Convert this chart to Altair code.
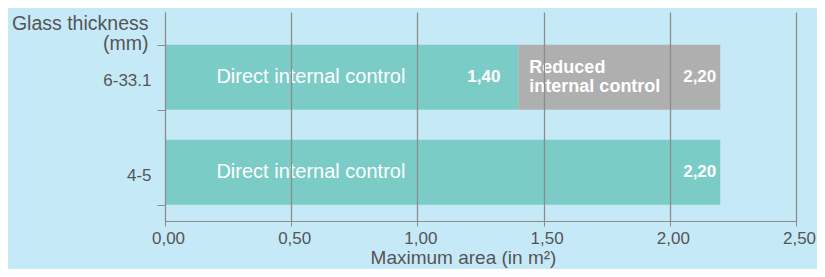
import altair as alt
import pandas as pd

categories = ["6-33.1", "6-33.1", "4-5"]
seg_start = [0.0, 1.40, 0.0]
seg_end = [1.40, 2.20, 2.20]
seg_type = ["Direct internal control", "Reduced internal control", "Direct internal control"]
value_labels = ["1,40", "2,20", "2,20"]
y_order = ["6-33.1", "4-5"]
x_ticks = [0, 0.5, 1.0, 1.5, 2.0, 2.5]

df = pd.DataFrame({
    "cat": categories,
    "start": seg_start,
    "end": seg_end,
    "type": seg_type,
    "vlabel": value_labels,
})

FONT = "Liberation Sans"
BG = "#c6e9f8"
TEAL = "#7bccc7"
GREY = "#b0afb0"
AX = "#8c8c8c"
TXT = "#555555"

yscale = alt.Scale(domain=y_order, paddingInner=0.316, paddingOuter=0.258, align=0.67)
xscale = alt.Scale(domain=[0, 2.5], nice=False)

x_enc = alt.X(
    "start:Q", scale=xscale,
    axis=alt.Axis(
        values=x_ticks, labelExpr="replace(format(datum.value, '.2f'), '.', ',')",
        title="Maximum area (in m²)", grid=True, gridColor=AX, gridWidth=1.3,
        domainColor=AX, tickColor=AX, tickSize=5, labelColor=TXT, labelFontSize=17,
        labelFont=FONT, titleFont=FONT, titleFontSize=19, titleColor=TXT,
        titleFontWeight="normal", labelPadding=4, titlePadding=2, zindex=1,
        labelFlush=False, labelOffset=3, titleX=298, titleAlign="center",
    ),
)
y_enc = alt.Y(
    "cat:N", scale=yscale, sort=y_order,
    axis=alt.Axis(
        title=["Glass thickness", "(mm)"], titleAngle=0, titleAlign="right",
        titleBaseline="top", titleX=-17, titleY=2, titleLineHeight=20,
        titleFont=FONT, titleFontSize=19.5, titleColor=TXT, titleFontWeight="normal",
        labelFont=FONT, labelFontSize=17, labelColor=TXT, labelPadding=6, labelOffset=3,
        domainColor=AX, tickColor=AX, tickSize=8, tickBand="extent", grid=False,
    ),
)

bars = alt.Chart(df).mark_bar(cornerRadius=0).encode(
    x=x_enc, x2="end:Q", y=y_enc,
    color=alt.Color("type:N", scale=alt.Scale(
        domain=["Direct internal control", "Reduced internal control"],
        range=[TEAL, GREY]), legend=None),
)

ysub = alt.Y("cat:N", scale=yscale, sort=y_order)

direct = df[df["type"] == "Direct internal control"].assign(lx=0.578)
name_text = alt.Chart(direct).mark_text(
    font=FONT, fontSize=20, color="white", align="center", baseline="middle",
).encode(x=alt.X("lx:Q", scale=xscale), y=ysub, text="type:N")

reduced = df[df["type"] == "Reduced internal control"].assign(t2="Reduced\ninternal control")
red_text = alt.Chart(reduced).mark_text(
    font=FONT, fontSize=18, fontWeight="bold", color="white", align="left",
    baseline="middle", lineBreak="\n", lineHeight=19, dx=11, dy=-9,
).encode(x=alt.X("start:Q", scale=xscale), y=ysub, text="t2:N")

end_df = df[df["end"] == df["end"].max()]
mid_df = df[df["end"] != df["end"].max()]
val_end = alt.Chart(end_df).mark_text(
    font=FONT, fontSize=17, fontWeight="bold", color="white", align="right",
    baseline="middle", dx=-4,
).encode(x=alt.X("end:Q", scale=xscale), y=ysub, text="vlabel:N")
val_mid = alt.Chart(mid_df).mark_text(
    font=FONT, fontSize=17, fontWeight="bold", color="white", align="right",
    baseline="middle", dx=-18,
).encode(x=alt.X("end:Q", scale=xscale), y=ysub, text="vlabel:N")

chart = alt.layer(bars, name_text, red_text, val_end, val_mid).properties(
    width=631, height=209, background=BG,
    autosize=alt.AutoSizeParams(type="none"),
    padding={"left": 157, "top": 4, "right": 21, "bottom": 48},
).configure_view(stroke=None)

chart.save("out.html", embed_options={"renderer": "svg", "actions": False})
